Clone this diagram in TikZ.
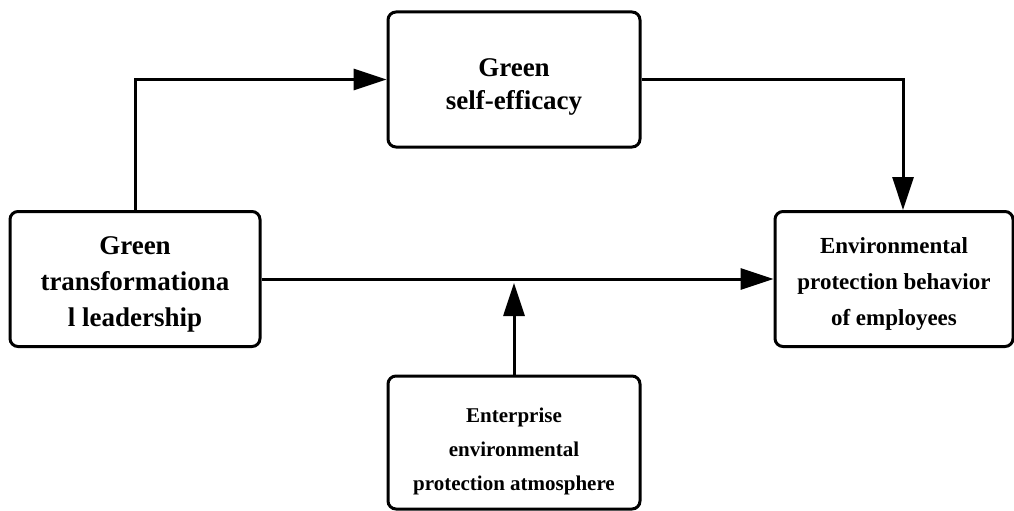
\documentclass[tikz,border=0pt]{standalone}
\usepackage{fontspec}
\setmainfont{Liberation Serif}
\usetikzlibrary{arrows.meta}
\begin{document}
\begin{tikzpicture}[x=1pt,y=-1pt,
  box/.style={draw,line width=3pt,rounded corners=8pt,inner sep=0pt},
  txt/.style={align=center,inner sep=0pt},
  conn/.style={line width=3pt,-{Triangle[length=33pt,width=21pt]}}]
\useasboundingbox (0,0) rectangle (1014,511);
\node[box,minimum width=250pt,minimum height=135pt] (lead) at (135,279) {};
\node[txt,font=\bfseries\fontsize{27}{36}\selectfont] (leadt) at (135,284) {Green\\transformationa\\l leadership};
\node[box,minimum width=252pt,minimum height=135pt] (eff) at (514,79.5) {};
\node[txt,font=\bfseries\fontsize{27}{33}\selectfont] (efft) at (514,87) {Green\\self-efficacy};
\node[box,minimum width=238pt,minimum height=135pt] (beh) at (894,279) {};
\node[txt,font=\bfseries\fontsize{23}{36}\selectfont] (beht) at (894,283.5) {Environmental\\protection behavior\\of employees};
\node[box,minimum width=252pt,minimum height=133pt] (atm) at (514,442.5) {};
\node[txt,font=\bfseries\fontsize{21}{34}\selectfont] (atmt) at (514,451) {Enterprise\\environmental\\protection atmosphere};
\coordinate (mod) at (514,283);
\draw[conn] (lead.north) |- (eff.west);
\draw[conn] (eff.east) -| (beh.north -| 903,0);
\draw[conn] (lead.east) -- (beh.west);
\draw[conn] (atm.north) -- (mod);
\end{tikzpicture}
\end{document}
